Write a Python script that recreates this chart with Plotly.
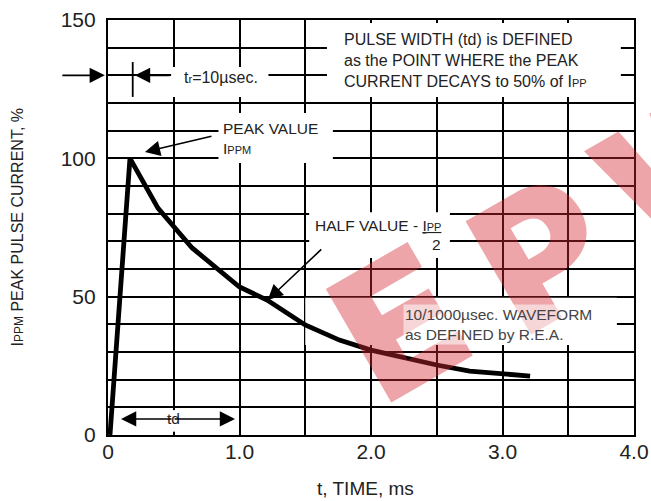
import plotly.graph_objects as go

# ---- data ----
t_ms = [0.015, 0.167, 0.38, 0.64, 1.0, 1.21, 1.5, 1.76, 2.0, 2.5, 2.75, 3.0, 3.21]
i_pct = [0, 100, 82, 67.6, 53.5, 48.8, 39.8, 34.3, 30.7, 25.3, 23.1, 22.1, 21.3]

x_ticks = [0, 0.5, 1, 1.5, 2, 2.5, 3, 3.5, 4]
x_labels = ["0", "", "1.0", "", "2.0", "", "3.0", "", "4.0"]
y_ticks = list(range(0, 151, 10))
y_labels = [str(v) if v % 50 == 0 else "" for v in y_ticks]

watermark_letters = ["E", "P", "W"]

FONT = "Liberation Sans"
TXT = "#222222"

fig = go.Figure()
fig.add_trace(go.Scatter(x=t_ms, y=i_pct, mode="lines",
                         line=dict(color="black", width=4.8),
                         hoverinfo="skip", showlegend=False))

# white masks that interrupt the grid behind the text blocks
masks = [
    (1.665, 3.90, 122.2, 148.9),   # pulse width note
    (0.48, 1.22, 122.2, 133.0),    # tr note
    (0.84, 1.71, 98.3, 116.4),     # peak value
    (1.53, 2.60, 64.0, 80.5),      # half value
    (1.50, 3.87, 32.5, 49.6),      # waveform note
    (0.42, 0.60, 1.2, 9.0),        # td label
]
shapes = []
for x0, x1, y0, y1 in masks:
    shapes.append(dict(type="rect", xref="x", yref="y", x0=x0, x1=x1, y0=y0, y1=y1,
                       fillcolor="white", line=dict(width=0), layer="between"))
# vertical marker at tr
shapes.append(dict(type="line", xref="x", yref="y", x0=0.188, x1=0.188, y0=122.2, y1=134.8,
                   line=dict(color="black", width=1.8)))

ann = []
# watermark, one letter at a time along a rising baseline
wm_pos = [(0.553, 0.27), (0.826, 0.44), (1.12, 0.66)]
for letter, (wx, wy) in zip(watermark_letters, wm_pos):
    ann.append(dict(xref="paper", yref="paper", x=wx, y=wy, xanchor="center", yanchor="middle",
                    text=letter, showarrow=False, textangle=-30,
                    font=dict(family="Inter", weight=900, size=180,
                              color="rgba(215,40,50,0.42)")))

def txt(x, y, s, size=15.5, xanchor="left", bg=None, color=TXT):
    d = dict(xref="x", yref="y", x=x, y=y, text=s, showarrow=False, xanchor=xanchor,
             yanchor="middle", align="left", font=dict(family=FONT, size=size, color=color))
    if bg:
        d["bgcolor"] = bg
    ann.append(d)

def arrow(x, y, ax, ay, xref="x"):
    ann.append(dict(xref=xref, yref="y", x=x, y=y, ax=ax, ay=ay, text="", showarrow=True,
                    arrowhead=2, arrowsize=1.9, arrowwidth=1.6, arrowcolor="black"))

def small(s, px=11):
    return "<span style='font-size:%dpx'>%s</span>" % (px, s)

txt(1.78, 135.4, "PULSE WIDTH (td) is DEFINED<br>as the POINT WHERE the PEAK<br>CURRENT DECAYS to 50% of I" + small("PP"), size=16)
txt(0.565, 129.2, "t" + small("r") + "=10µsec.", size=16)
txt(0.86, 107.3, "PEAK VALUE<br>I" + small("PPM"), size=15.5)
txt(1.56, 75.6, "HALF VALUE - <u>I" + small("PP") + "</u>", size=15.5, bg="rgba(255,255,255,0.5)")
txt(2.5, 69.0, "2", size=15.5, xanchor="center")
txt(2.24, 40.0, "10/1000µsec. WAVEFORM<br>as DEFINED by R.E.A.", size=15.5,
    bg="rgba(255,255,255,0.55)", color="#444444")
txt(0.495, 5.8, "td", size=15.5, xanchor="center")

# axis titles
ann.append(dict(xref="paper", yref="paper", x=(365 - 108) / 526, y=(435 - 488) / 415,
                xanchor="center", yanchor="middle", showarrow=False,
                text="t, TIME, ms", font=dict(family=FONT, size=19, color=TXT)))
ann.append(dict(xref="paper", yref="paper", x=(17 - 108) / 526, y=0.5,
                xanchor="center", yanchor="middle", showarrow=False, textangle=-90,
                text="I" + small("PPM", 12) + " PEAK PULSE CURRENT, %",
                font=dict(family=FONT, size=16, color=TXT)))

# arrows
arrow(-0.006, 130, -44, 0, xref="paper")
arrow(0.205, 130, 36, 0)
arrow(0.281, 102.3, 68, -16)
arrow(1.215, 48.8, 55, -52)
arrow(0.099, 5.8, 52, 0)
arrow(0.966, 5.8, -62, 0)

axis_common = dict(ticks="", showgrid=True, gridcolor="black", gridwidth=1.6, zeroline=False,
                   showline=True, linecolor="black", linewidth=2.2, mirror=True,
                   automargin=False, tickfont=dict(family=FONT, size=21, color=TXT))

fig.update_layout(
    width=651, height=501,
    margin=dict(l=108, r=17, t=20, b=66, autoexpand=False),
    paper_bgcolor="white", plot_bgcolor="white",
    shapes=shapes, annotations=ann,
    font=dict(family=FONT, color=TXT),
    xaxis=dict(range=[0, 4], tickvals=x_ticks, ticktext=x_labels, ticklabelstandoff=-3,
               **axis_common),
    yaxis=dict(range=[0, 150], tickvals=y_ticks, ticktext=y_labels, ticklabelstandoff=6,
               **axis_common),
)

fig.write_html("out.html", config={"displayModeBar": False},
               post_script="document.body.style.margin='0';")
